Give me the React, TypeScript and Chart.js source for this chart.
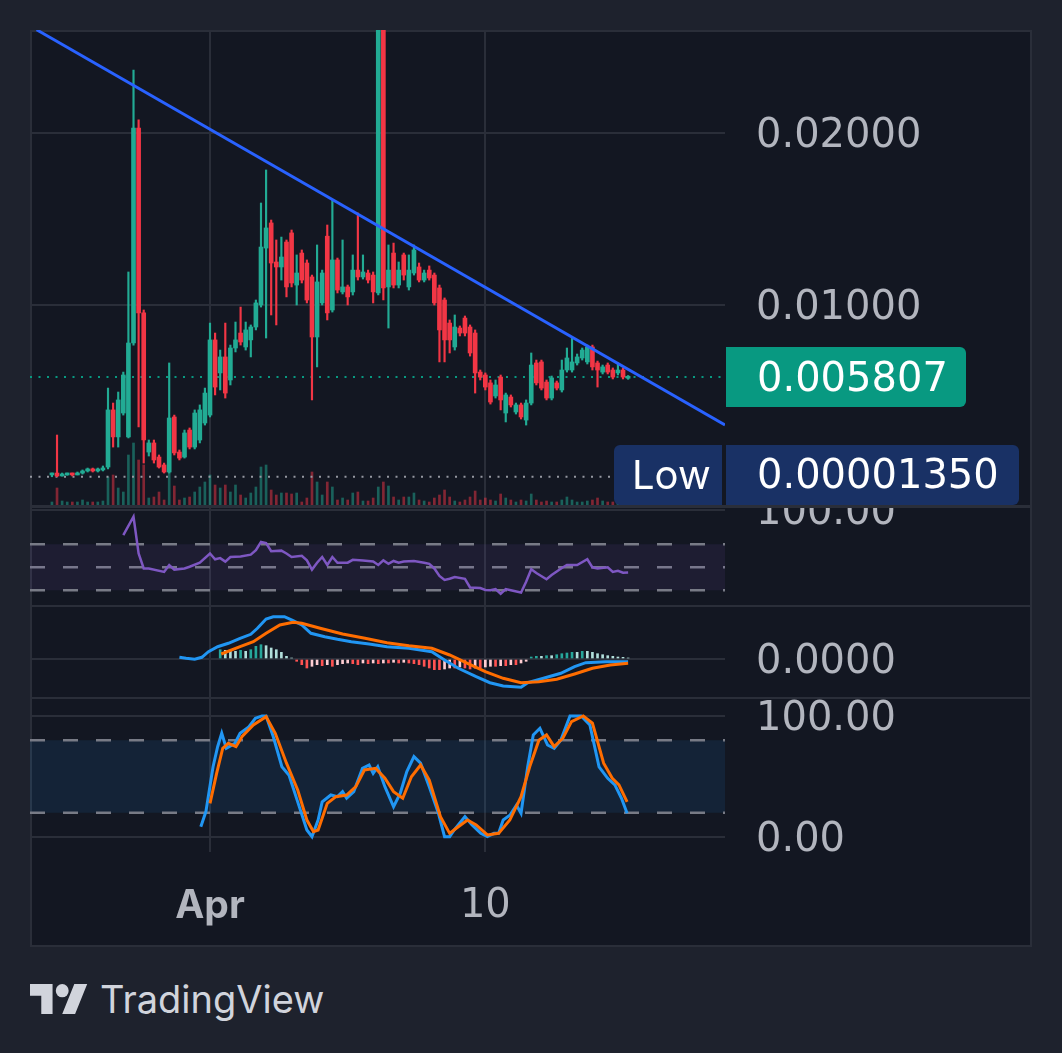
import React, { useEffect, useRef } from "react";
import { Chart, registerables } from "chart.js";

Chart.register(...registerables);

const FONT = "Inter, 'Noto Sans', sans-serif";
const NUM_FONT = "'DejaVu Sans', Inter, sans-serif";
const NUM_SIZE = 40;
const TEXT = "#b2b5be";
const GRID = "#2a2e39";
const UP = "#22ab94";
const DOWN = "#f23645";
const DASH = "#787b86";

// ---------- x axis (4h candle index; 0 = Mar 26 20:00) ----------
const X_MIN = -4.3;
const X_MAX = 132;
const xTickIdx = [31, 85];
const xTickLabels = ["Apr", "10"];

// ---------- main price panel ----------
const opens = [0.00012,0.00023,0.00006,0.00012,0.00017,0.00012,0.00023,0.00035,0.00047,0.00035,0.00041,0.00058,0.0039,0.00233,0.00372,0.00233,0.00779,0.02029,0.00954,0.00145,0.00198,0.00116,0.0007,0.00029,0.00349,0.00145,0.00116,0.00273,0.00174,0.00215,0.00314,0.0036,0.00797,0.00605,0.00698,0.00564,0.0075,0.00837,0.00756,0.00797,0.00872,0.01,0.01331,0.01477,0.0125,0.01221,0.01366,0.01419,0.01116,0.01302,0.01244,0.01163,0.00814,0.01012,0.014,0.00971,0.01262,0.01076,0.01105,0.01076,0.01203,0.01163,0.01186,0.01174,0.0107,0.0295,0.01105,0.01302,0.01116,0.01291,0.01105,0.01186,0.01221,0.01145,0.01203,0.01174,0.01099,0.01029,0.00895,0.00756,0.00866,0.00924,0.00872,0.00837,0.0061,0.00593,0.00547,0.00471,0.00581,0.00372,0.00465,0.00378,0.00419,0.00331,0.0043,0.00663,0.00669,0.00552,0.00459,0.00547,0.00506,0.00622,0.00622,0.00663,0.00692,0.00669,0.00756,0.00663,0.0061,0.00651,0.00622,0.00605,0.00622,0.00574];
const highs = [0.00023,0.00244,0.00023,0.00023,0.00023,0.00029,0.00041,0.00052,0.00052,0.00052,0.00064,0.00517,0.0043,0.00494,0.0061,0.01192,0.02366,0.02076,0.00971,0.00215,0.00215,0.00128,0.00081,0.00663,0.0036,0.00157,0.00273,0.00285,0.0039,0.00419,0.00517,0.00895,0.00837,0.00738,0.00895,0.00767,0.00901,0.00988,0.00901,0.00884,0.01029,0.01593,0.01785,0.01494,0.01378,0.01395,0.01378,0.01436,0.01291,0.0132,0.01262,0.01174,0.01349,0.01203,0.01465,0.0161,0.01273,0.01378,0.01116,0.01291,0.01535,0.01291,0.01203,0.01192,0.03,0.03,0.01349,0.0136,0.0125,0.01302,0.01291,0.01349,0.01244,0.01203,0.01227,0.01186,0.01116,0.01041,0.00913,0.00942,0.00878,0.00936,0.00884,0.00855,0.00622,0.00605,0.00564,0.00564,0.00593,0.00488,0.00477,0.0043,0.0043,0.00448,0.00721,0.0068,0.0068,0.00564,0.00587,0.00558,0.0068,0.0075,0.00808,0.00715,0.0075,0.00767,0.00767,0.00674,0.00651,0.00663,0.00634,0.00663,0.00634,0.0059];
const lows = [0.0000135,0.00002,0.00005,0.0001,0.00006,0.00012,0.00017,0.00029,0.00029,0.00029,0.00035,0.00047,0.00174,0.00174,0.0036,0.00227,0.00767,0.00291,0.00081,0.00122,0.00081,0.00052,0.00023,0.00023,0.00128,0.00099,0.0011,0.00163,0.00163,0.00198,0.00302,0.00349,0.00477,0.00506,0.00459,0.00535,0.00727,0.00767,0.00738,0.00698,0.00855,0.00988,0.00808,0.00942,0.00884,0.01145,0.01047,0.01105,0.01,0.01128,0.01012,0.00448,0.0064,0.01,0.00913,0.00959,0.0107,0.01064,0.01,0.01058,0.01145,0.01151,0.01128,0.01012,0.01058,0.01029,0.00866,0.01099,0.01099,0.01145,0.01087,0.01174,0.01134,0.01134,0.01145,0.01,0.00669,0.00669,0.00721,0.00738,0.0082,0.0082,0.00703,0.00488,0.00564,0.00506,0.00424,0.00459,0.0039,0.0032,0.00407,0.00366,0.00337,0.00302,0.00419,0.00535,0.00506,0.00448,0.00448,0.00506,0.00494,0.0061,0.0061,0.00651,0.0068,0.00657,0.00622,0.00523,0.00599,0.00599,0.0057,0.00593,0.0057,0.00568];
const closes = [0.00017,0.00006,0.00017,0.00017,0.00012,0.00023,0.00035,0.00047,0.00035,0.00041,0.00052,0.0039,0.00233,0.00448,0.00593,0.00779,0.02029,0.00954,0.00215,0.00198,0.00099,0.00058,0.00029,0.00343,0.0014,0.0011,0.00256,0.00174,0.00372,0.0039,0.00488,0.00797,0.00523,0.00698,0.00488,0.0075,0.00797,0.00785,0.00855,0.00872,0.01012,0.01337,0.01448,0.01244,0.01221,0.01279,0.01105,0.01128,0.01186,0.01145,0.01029,0.00814,0.01134,0.01186,0.00954,0.01262,0.01087,0.01105,0.01047,0.01203,0.01163,0.01192,0.01145,0.01076,0.0295,0.01099,0.01203,0.01116,0.01203,0.01174,0.01203,0.0132,0.01145,0.01186,0.01157,0.01012,0.00855,0.00797,0.00797,0.00872,0.00837,0.00837,0.00721,0.00605,0.00581,0.00523,0.00436,0.00535,0.00448,0.00477,0.00419,0.00419,0.00349,0.0043,0.00651,0.00547,0.00517,0.00459,0.00576,0.00517,0.00622,0.00692,0.00669,0.00698,0.00738,0.00756,0.0064,0.00622,0.0064,0.0061,0.00581,0.00622,0.00581,0.005807];
const volumes = [3,17,4,3,3,3,5,3,3,3,4,28,30,17,13,50,62,45,40,7,8,13,5,33,19,5,7,8,13,18,23,30,20,17,20,13,20,10,7,12,18,38,40,15,10,12,12,11,12,3,7,33,23,10,23,18,5,7,5,12,13,4,4,7,18,23,19,8,5,8,8,12,5,4,3,7,10,15,8,4,3,5,8,14,5,7,5,4,11,7,5,3,5,4,11,5,3,4,3,3,5,8,5,3,3,4,5,7,4,3,3,3,3,3];
const trendX = [-3, 132];
const trendY = [0.026, 0.00302];
const priceTicks = [0.01, 0.02];
const MAIN_MIN = -0.001628;
const MAIN_MAX = 0.025988;
const VOL_MAX = 475;

// ---------- RSI ----------
const rsiX = [14,16,17,18,19,22,23,24,26,27,29,31,32,33,34,35,37,39,40,41,42,43,45,46,47,49,50,51,52,53,54,55,56,58,59,61,63,64,65,66,67,68,69,71,73,74,75,76,77,78,79,81,82,84,85,86,87,88,89,90,92,93,94,95,97,98,100,101,103,105,106,107,109,110,111,112,113];
const rsiY = [78,94,62,49,49,46,52,48,49,50.5,54,62,57,58,55,59,59.5,61,65,72,71,64,64.5,62,59,60,56,48,54,59,52,59,54,54,56.5,56,55,52,56,53,55.5,54,55,55.5,54,53,49,42.5,39,40,41.5,40,32.5,32,30.3,30,31,27,31,30,28,37.5,48.3,45,39.6,43.3,49.4,52,52,57,50,49,50,46,47,45.3,45.5];
const rsiLevels = [70, 50, 30];
const rsiTicks = [100];

// ---------- MACD ----------
const macdX = [25,26.3,28,29.4,30.7,32.5,34.6,36.9,39,40.3,42,43.4,45.6,47.3,49,50.8,53.5,56,58.7,62.2,65.7,70,74.5,77,79.7,83.2,85.9,88.5,92,93.3,96.4,99.8,102.5,104.7,108.6,113];
const macdY = [1.7e-5,0.7e-5,-0.3e-5,1.7e-5,7.3e-5,12.3e-5,15.7e-5,20.7e-5,24.7e-5,30.7e-5,40e-5,42.3e-5,42.3e-5,38.3e-5,34e-5,25.7e-5,22.3e-5,19.7e-5,17.3e-5,15e-5,12.3e-5,10.7e-5,7.3e-5,-1e-5,-9.3e-5,-17.7e-5,-23.7e-5,-27e-5,-28.3e-5,-23.7e-5,-19.3e-5,-14.3e-5,-7.7e-5,-3.7e-5,-2.7e-5,-2.7e-5];
const signalX = [33.2,36.9,39.5,42,44.7,47.3,49,52.6,57,61.4,65.7,70,74.5,78,81.5,85,88.5,92,95.5,99,102.5,106,109.5,113];
const signalY = [5e-5,12.3e-5,17.3e-5,25.7e-5,34e-5,36.7e-5,35.7e-5,30.7e-5,25e-5,20.7e-5,16.3e-5,13.3e-5,10.7e-5,4e-5,-4.3e-5,-12.7e-5,-19.3e-5,-23.7e-5,-22.7e-5,-20.3e-5,-15e-5,-9.3e-5,-6e-5,-4.3e-5];
const HIST_START = 33;
const histVals = [9.3e-5,8.7e-5,7.7e-5,7.7e-5,8.7e-5,7.7e-5,9.3e-5,12.7e-5,14.3e-5,13.3e-5,11e-5,9.3e-5,6.7e-5,2.7e-5,1e-5,-2.3e-5,-5.7e-5,-9e-5,-7.3e-5,-5.7e-5,-6.7e-5,-5.7e-5,-7.3e-5,-5.7e-5,-4.7e-5,-4e-5,-4.7e-5,-5.7e-5,-4e-5,-4.7e-5,-4e-5,-4.7e-5,-4e-5,-4e-5,-3.3e-5,-4e-5,-3.3e-5,-4e-5,-4.7e-5,-5.7e-5,-7.3e-5,-9e-5,-10.7e-5,-10.7e-5,-10e-5,-9e-5,-9e-5,-8e-5,-9e-5,-10e-5,-9e-5,-9e-5,-8e-5,-7.3e-5,-7.3e-5,-6.7e-5,-6.7e-5,-5.7e-5,-5.7e-5,-4e-5,-2.3e-5,2e-5,2.7e-5,2.7e-5,3.3e-5,3.3e-5,4.3e-5,5.3e-5,6e-5,6.7e-5,6.7e-5,7.7e-5,7.7e-5,6.7e-5,5.3e-5,4.3e-5,3.3e-5,2.7e-5,2e-5,1.7e-5,1e-5];
const macdTicks = [0];

// ---------- Stochastic ----------
const kX = [29.2,30.2,31.6,32.5,33.3,34.2,35.9,36.9,38.6,39.9,41.2,42,43.4,45.1,46.5,48.2,50,51,52.2,53,54.7,56,57,57.8,59.2,60.9,62.2,63,63.9,65.3,67,68.3,69.6,71,72.3,74,75.8,77,78,78.9,81,82.4,84.1,85.4,86.7,87.6,88.5,89.8,91.1,92,93.3,94.4,95.7,97.2,98.5,99.8,101.6,103.8,105.5,107.3,109,110.4,111.7,112.8];
const kY = [8.5,21,58,74.6,85.7,73.3,77.4,85.7,91,98,100,100,83,58,51,29,5.8,0.3,14,29,34.7,33.3,37.5,32,37.5,56.7,59.5,52.6,58,41.6,25,36,54,66.4,61,41.6,19.6,0.3,0.3,5.8,16.8,10,3,0.3,3,3,14,18,26.4,19.6,58,84.3,89.8,76,73.3,80,100,100,92.6,58,48.5,43,32,19.6];
const dX = [31,32.3,33.5,34.6,36.1,37.3,39.5,42,43.8,46,48.2,50,51.3,52.2,54,55.7,57.8,59.6,61.3,63.5,65.3,67,68.8,70.5,72.3,74,76.2,78,79.3,81.5,83.2,85.4,87.6,89.8,92,93.7,95.5,97,98.5,100.2,101.9,104.2,106,108.2,109.9,111.2,112.8];
const dY = [27.8,52.6,73.3,77.4,74.6,83,92.6,99.4,85.7,61,38.8,14,4.4,5.8,27.8,33.3,34.7,41.6,55.4,56.7,48.5,37.5,32,49.8,59.5,47,16.8,3,7.2,14,10,1.7,3,14,33.3,58,80,84.3,74.6,81.6,95.3,100,94,61,48.5,43,29];
const stochLevels = [80, 20];
const stochTicks = [0, 100];

// ---------- helpers ----------
function xAxis(show: boolean): any {
  return {
    type: "linear",
    min: X_MIN,
    max: X_MAX,
    offset: false,
    grid: { display: true, offset: false, color: GRID, lineWidth: 2, drawTicks: false },
    border: { display: false },
    ticks: {
      display: show,
      padding: 31,
      color: TEXT,
      maxRotation: 0,
      autoSkip: false,
      font: (c: any) => {
        const isMonth = c && c.tick && c.tick.value === xTickIdx[0];
        return isMonth
          ? { family: FONT, size: 39, weight: "bold" }
          : { family: NUM_FONT, size: NUM_SIZE, weight: "normal" };
      },
      callback: (v: any) => {
        const k = xTickIdx.indexOf(Number(v));
        return k >= 0 ? xTickLabels[k] : "";
      },
    },
    afterBuildTicks: (s: any) => {
      s.ticks = xTickIdx.map((v) => ({ value: v }));
    },
    afterFit: (s: any) => {
      s.height = show ? 94 : 0;
      s.paddingLeft = 0;
      s.paddingRight = 0;
    },
  };
}

function yAxis(min: number, max: number, tickVals: number[], digits: number): any {
  return {
    position: "right",
    min,
    max,
    grid: { color: GRID, lineWidth: 2, drawTicks: false },
    border: { display: false },
    ticks: {
      color: TEXT,
      padding: 31,
      labelOffset: 4,
      font: { family: NUM_FONT, size: NUM_SIZE },
      callback: (v: any) => Number(v).toFixed(digits),
    },
    afterBuildTicks: (s: any) => {
      s.ticks = tickVals.map((v) => ({ value: v }));
    },
    afterFit: (s: any) => {
      s.width = 306;
      s.paddingTop = 0;
      s.paddingBottom = 0;
    },
  };
}

function hLine(y: number, color: string, dash: number[], width: number, order: number, extra: any = {}): any {
  return {
    type: "line",
    data: [
      { x: X_MIN, y },
      { x: X_MAX, y },
    ],
    borderColor: color,
    borderDash: dash,
    borderWidth: width,
    pointRadius: 0,
    fill: false,
    order,
    ...extra,
  };
}

function pts(xs: number[], ys: number[]) {
  return xs.map((x, i) => ({ x, y: ys[i] }));
}

function baseOptions(scales: any): any {
  return {
    animation: false,
    responsive: false,
    events: [],
    layout: { padding: 0 },
    plugins: { legend: { display: false }, tooltip: { enabled: false } },
    scales,
  };
}

const lastPrice = closes[closes.length - 1];
const lowPrice = Math.min(...lows);

const badgePlugin = {
  id: "badges",
  afterDraw(chart: any) {
    const { ctx, chartArea } = chart;
    const ys = chart.scales.y;
    ctx.save();
    ctx.textBaseline = "middle";
    ctx.textAlign = "left";
    // current price badge
    const py = ys.getPixelForValue(lastPrice);
    const bx = chartArea.right + 1;
    ctx.fillStyle = "#089981";
    ctx.beginPath();
    ctx.roundRect(bx, py - 30, 240, 60, [0, 6, 6, 0]);
    ctx.fill();
    ctx.fillStyle = "#ffffff";
    ctx.font = `${NUM_SIZE}px ${NUM_FONT}`;
    ctx.fillText(lastPrice.toFixed(6), bx + 31, py + 3);
    // low badge (kept inside the pane)
    const ly = Math.min(ys.getPixelForValue(lowPrice), chartArea.bottom - 30);
    ctx.fillStyle = "#193165";
    ctx.beginPath();
    ctx.roundRect(chartArea.right - 111, ly - 30, 108, 60, [6, 0, 0, 6]);
    ctx.fill();
    ctx.beginPath();
    ctx.roundRect(bx, ly - 30, 293, 60, [0, 6, 6, 0]);
    ctx.fill();
    ctx.fillStyle = "#ffffff";
    ctx.fillText(lowPrice.toFixed(8), bx + 31, ly + 3);
    ctx.font = `40px ${FONT}`;
    ctx.fillText("Low", chartArea.right - 93, ly + 2);
    ctx.restore();
  },
};

function mainConfig(): any {
  const idx = opens.map((_, i) => i);
  const isUp = idx.map((i) => closes[i] >= opens[i]);
  return {
    type: "bar",
    data: {
      datasets: [
        {
          type: "line",
          data: pts(trendX, trendY),
          borderColor: "#2962ff",
          borderWidth: 3,
          pointRadius: 0,
          order: 0,
        },
        {
          type: "bar",
          data: idx.map((i) => ({ x: i, y: [opens[i], closes[i]] })),
          backgroundColor: idx.map((i) => (isUp[i] ? UP : DOWN)),
          borderWidth: 0,
          barThickness: 4,
          minBarLength: 2,
          grouped: false,
          order: 1,
        },
        {
          type: "bar",
          data: idx.map((i) => ({ x: i, y: [lows[i], highs[i]] })),
          backgroundColor: idx.map((i) => (isUp[i] ? UP : DOWN)),
          borderWidth: 0,
          barThickness: 1.5,
          grouped: false,
          order: 2,
        },
        hLine(lastPrice, "#089981", [2, 6.5], 2, 3),
        hLine(lowPrice, "#9598a1", [2, 6.5], 2, 4),
        {
          type: "bar",
          yAxisID: "yv",
          data: idx.map((i) => ({ x: i, y: volumes[i] })),
          backgroundColor: idx.map((i) => (isUp[i] ? "rgba(34,171,148,0.5)" : "rgba(242,54,69,0.5)")),
          borderWidth: 0,
          barThickness: 2,
          grouped: false,
          order: 5,
        },
      ],
    },
    options: baseOptions({
      x: xAxis(false),
      y: yAxis(MAIN_MIN, MAIN_MAX, priceTicks, 5),
      yv: { display: false, min: 0, max: VOL_MAX },
    }),
    plugins: [badgePlugin],
  };
}

function rsiConfig(): any {
  return {
    type: "line",
    data: {
      datasets: [
        { data: pts(rsiX, rsiY), borderColor: "#7e57c2", borderWidth: 2.5, pointRadius: 0, order: 0 },
        hLine(rsiLevels[0], DASH, [15, 18], 2.5, 1),
        hLine(rsiLevels[2], DASH, [15, 18], 2.5, 2, { fill: "-1", backgroundColor: "rgba(126,87,194,0.1)" }),
        hLine(rsiLevels[1], DASH, [15, 18], 2.5, 3),
      ],
    },
    options: baseOptions({ x: xAxis(false), y: yAxis(17.2, 101.6, rsiTicks, 2) }),
  };
}

function macdConfig(): any {
  const colors = histVals.map((v, j) => {
    const prev = j > 0 ? histVals[j - 1] : 0;
    if (v >= 0) return prev < v ? "#26a69a" : "#b2dfdb";
    return prev < v ? "#ffcdd2" : "#ff5252";
  });
  return {
    type: "line",
    data: {
      datasets: [
        { data: pts(signalX, signalY), borderColor: "#ff6d00", borderWidth: 3, pointRadius: 0, order: 0 },
        { data: pts(macdX, macdY), borderColor: "#2196f3", borderWidth: 3, pointRadius: 0, order: 1 },
        {
          type: "bar",
          data: histVals.map((v, j) => ({ x: HIST_START + j, y: v })),
          backgroundColor: colors,
          borderWidth: 0,
          barThickness: 2,
          grouped: false,
          order: 2,
        },
      ],
    },
    options: baseOptions({ x: xAxis(false), y: yAxis(-38e-5, 52e-5, macdTicks, 4) }),
  };
}

function stochConfig(): any {
  return {
    type: "line",
    data: {
      datasets: [
        { data: pts(dX, dY), borderColor: "#ff6d00", borderWidth: 3, pointRadius: 0, order: 0 },
        { data: pts(kX, kY), borderColor: "#2196f3", borderWidth: 3, pointRadius: 0, order: 1 },
        hLine(stochLevels[0], DASH, [15, 18], 2.5, 2),
        hLine(stochLevels[1], DASH, [15, 18], 2.5, 3, { fill: "-1", backgroundColor: "rgba(33,150,243,0.1)" }),
      ],
    },
    options: baseOptions({ x: xAxis(true), y: yAxis(-12.4, 114, stochTicks, 2) }),
  };
}

const canvasStyle = (top: number, height: number): React.CSSProperties => ({
  position: "absolute",
  left: 30,
  top,
  width: 1001,
  height,
  display: "block",
});

export default function App() {
  const mainRef = useRef<HTMLCanvasElement>(null);
  const rsiRef = useRef<HTMLCanvasElement>(null);
  const macdRef = useRef<HTMLCanvasElement>(null);
  const stochRef = useRef<HTMLCanvasElement>(null);

  useEffect(() => {
    Chart.defaults.font.family = FONT;
    const charts = [
      new Chart(mainRef.current as any, mainConfig()),
      new Chart(rsiRef.current as any, rsiConfig()),
      new Chart(macdRef.current as any, macdConfig()),
      new Chart(stochRef.current as any, stochConfig()),
    ];
    return () => charts.forEach((c) => c.destroy());
  }, []);

  return (
    <div
      style={{
        position: "absolute",
        left: 0,
        top: 0,
        width: 1062,
        height: 1053,
        background: "#1e222d",
        overflow: "hidden",
        fontFamily: FONT,
      }}
    >
      <div
        style={{
          position: "absolute",
          left: 30,
          top: 30,
          width: 1002,
          height: 917,
          boxSizing: "border-box",
          border: "2px solid #2a2e39",
          background: "#131722",
        }}
      />
      <div style={{ position: "absolute", left: 30, top: 505, width: 1002, height: 3, background: GRID }} />
      <div style={{ position: "absolute", left: 30, top: 605, width: 1002, height: 2, background: GRID }} />
      <div style={{ position: "absolute", left: 30, top: 697, width: 1002, height: 2, background: GRID }} />
      <canvas ref={mainRef} width={1001} height={475} style={canvasStyle(30, 475)} />
      <canvas ref={rsiRef} width={1001} height={97} style={canvasStyle(508, 97)} />
      <canvas ref={macdRef} width={1001} height={90} style={canvasStyle(607, 90)} />
      <canvas ref={stochRef} width={1001} height={247} style={canvasStyle(699, 247)} />
      <svg
        width={58}
        height={30}
        viewBox="0 4 36 18"
        preserveAspectRatio="none"
        style={{ position: "absolute", left: 30, top: 984 }}
      >
        <path d="M14 22H7V11H0V4h14v18zM28 22h-8l7.5-18h8L28 22z" fill="#d1d4dc" />
        <circle cx="20" cy="8" r="4" fill="#d1d4dc" />
      </svg>
      <div
        style={{
          position: "absolute",
          left: 100,
          top: 976,
          fontSize: 38,
          lineHeight: "46px",
          color: "#d1d4dc",
          whiteSpace: "nowrap",
        }}
      >
        TradingView
      </div>
    </div>
  );
}
